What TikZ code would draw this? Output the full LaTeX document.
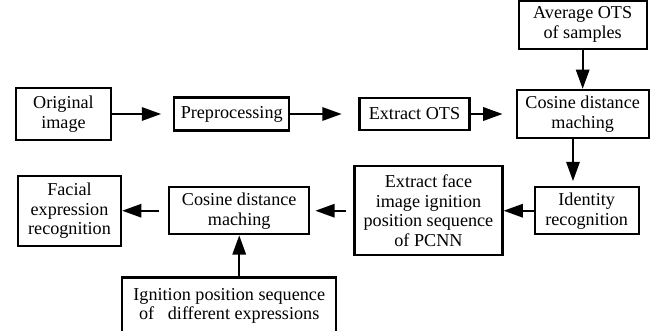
\documentclass[tikz,border=0pt]{standalone}
\usepackage{fontspec}
\setmainfont{Liberation Serif}
\usetikzlibrary{positioning,arrows.meta}
\tikzstyle{block} = [rectangle, draw, line width=1.9pt, align=center, inner sep=0pt]
\tikzstyle{flow} = [->, line width=1.9pt]

\begin{document}
\begin{tikzpicture}[>={Triangle[length=0.58cm, width=0.4cm]}, font=\fontsize{15.5}{17}\selectfont]
        \useasboundingbox (0,0) rectangle (19.65,-9.93);
        \node[block, minimum width=2.85cm, minimum height=1.56cm] (original) at (1.905,-3.42) {Original\\image};
        \node[block, minimum width=3.45cm, minimum height=0.99cm, right=1.83cm of original] (preproc) {Preprocessing};
        \node[block, minimum width=3.3cm, minimum height=0.96cm, right=2.04cm of preproc] (extract) {Extract OTS};
        \node[block, minimum width=3.96cm, minimum height=1.44cm, right=1.35cm of extract] (cosine) {Cosine distance\\maching};
        \node[block, minimum width=3.84cm, minimum height=1.44cm, above=1.17cm of cosine] (average) {Average OTS\\of samples};
        \node[block, minimum width=3.12cm, minimum height=1.41cm, below=1.41cm of cosine, xshift=0.12cm] (identity) {Identity\\recognition};
        \node[block, minimum width=4.44cm, minimum height=2.67cm, left=0.9cm of identity] (pcnn) {Extract face\\image ignition\\position sequence\\of PCNN};
        \node[block, minimum width=4.2cm, minimum height=1.41cm, left=1.29cm of pcnn] (matching) {Cosine distance\\maching};
        \node[block, minimum width=3.09cm, minimum height=2.1cm, left=1.38cm of matching] (facial) {Facial\\expression\\recognition};
        \node[block, minimum width=6.42cm, minimum height=1.71cm, below=1.23cm of matching, xshift=-0.3cm] (ignition) {Ignition position sequence\\of \ \ different expressions};

        \draw[flow, shorten >=0.36cm] (original) -- (preproc);
        \draw[flow, shorten >=0.5cm] (preproc) -- (extract);
        \draw[flow, shorten >=0.39cm] (extract) -- (cosine.west |- extract);
        \draw[flow] (average) -- (cosine);
        \draw[flow, shorten >=0.15cm] (cosine.south -| 17.19,0) -- (identity.north -| 17.19,0);
        \draw[flow] (identity) -- (pcnn);
        \draw[flow, shorten <=0.21cm, shorten >=0.15cm] (pcnn) -- (matching);
        \draw[flow, shorten <=0.27cm] (matching) -- (facial);
        \draw[flow] (ignition.north -| matching.south) -- (matching.south);
    \end{tikzpicture}
\end{document}
